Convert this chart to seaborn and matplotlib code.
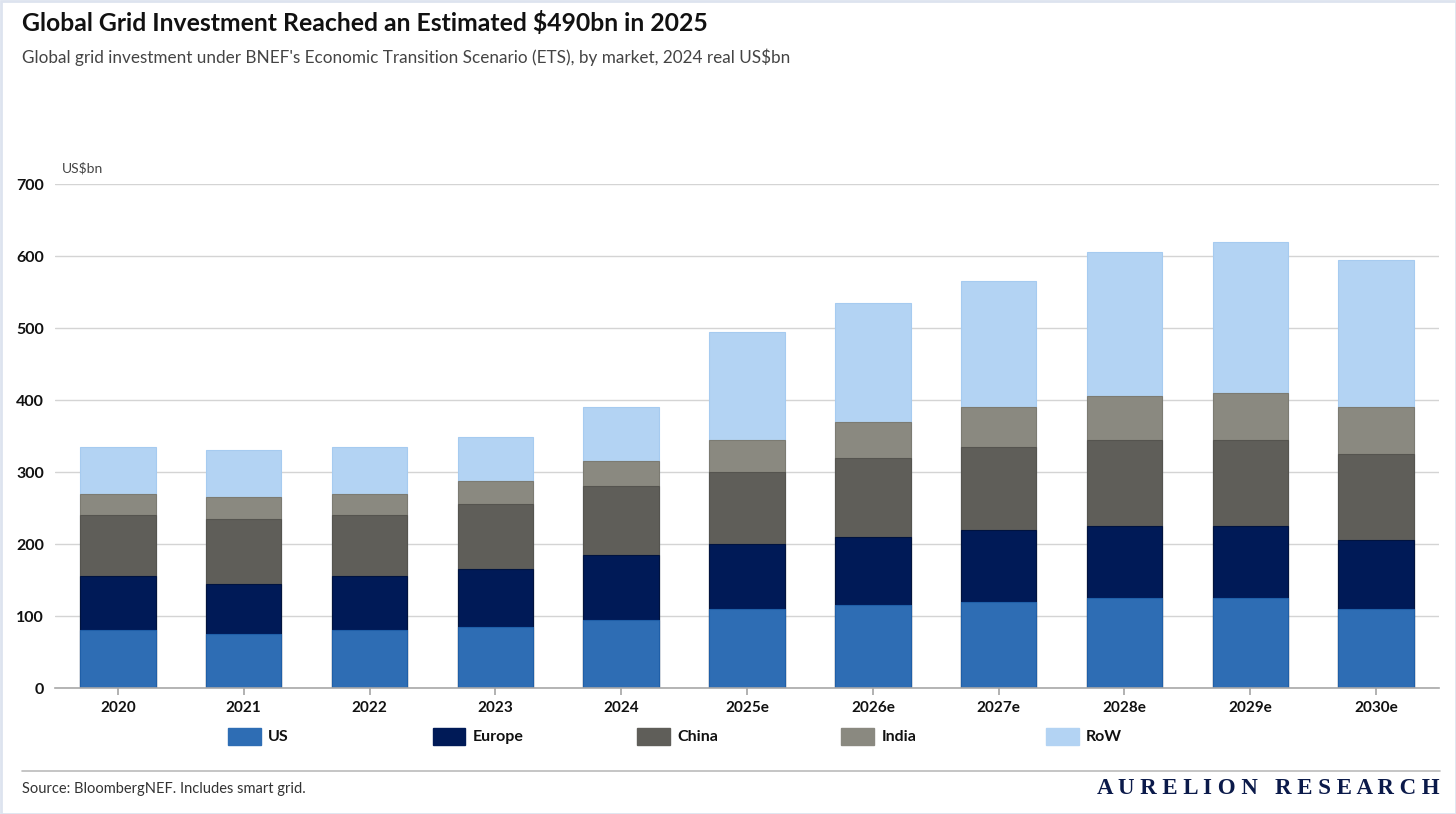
import numpy as np
import pandas as pd
import matplotlib
matplotlib.use("Agg")
import matplotlib.pyplot as plt
from matplotlib.patches import Rectangle
from matplotlib.lines import Line2D
import seaborn as sns

# ── Data (US$bn, 2024 real) ──────────────────────────────────────────────────
years = ["2020", "2021", "2022", "2023", "2024", "2025e", "2026e",
         "2027e", "2028e", "2029e", "2030e"]
us     = [80, 75, 80, 85, 95, 110, 115, 120, 125, 125, 110]
europe = [75, 70, 75, 80, 90, 90, 95, 100, 100, 100, 95]
china  = [85, 90, 85, 90, 95, 100, 110, 115, 120, 120, 120]
india  = [30, 30, 30, 32, 35, 45, 50, 55, 60, 65, 65]
row    = [65, 65, 65, 61, 75, 150, 165, 175, 200, 210, 205]

markets = ["US", "Europe", "China", "India", "RoW"]
colors  = ["#2E6DB4", "#001A57", "#5F5E59", "#8A8980", "#B3D3F3"]
edges   = ["#1F5FA8", "#00133F", "#55544F", "#7C7B72", "#A6CBF0"]

df = pd.DataFrame({"year": years, "US": us, "Europe": europe,
                   "China": china, "India": india, "RoW": row})
cum = df[markets].cumsum(axis=1)

# ── Figure ───────────────────────────────────────────────────────────────────
sns.set_theme(style="white")
plt.rcParams["font.family"] = ["Lato", "DejaVu Sans"]

fig = plt.figure(figsize=(14.56, 8.14), dpi=100)
W, H = 1456, 814
ax = fig.add_axes([55 / W, 1 - 688 / H, (1439 - 55) / W, (688 - 184) / H])

# stack: draw cumulative totals from the top layer down
for m, c, e in reversed(list(zip(markets, colors, edges))):
    sns.barplot(x=df["year"], y=cum[m], color=c, width=0.6, ax=ax,
                edgecolor=e, linewidth=0.8, saturation=1)

ax.set_ylim(0, 700)
ax.set_xlim(-0.5, len(years) - 0.5)
ax.set_yticks(range(0, 701, 100))
ax.yaxis.grid(True, color="#D4D4D4", lw=1)
ax.set_axisbelow(True)
ax.set_xlabel("")
ax.set_ylabel("")
for s in ["top", "right", "left"]:
    ax.spines[s].set_visible(False)
ax.spines["bottom"].set_color("#A8A8A8")
ax.spines["bottom"].set_linewidth(1.2)
ax.tick_params(axis="x", bottom=True, length=5, color="#A8A8A8", pad=4)
ax.tick_params(axis="y", left=False, pad=2)
for lab in ax.get_xticklabels():
    lab.set_fontweight("bold")
    lab.set_fontsize(11)
    lab.set_color("#111111")
for lab in ax.get_yticklabels():
    lab.set_fontweight("bold")
    lab.set_fontsize(11.5)
    lab.set_color("#111111")

# ── Texts ────────────────────────────────────────────────────────────────────
fig.text(22 / W, 1 - 23 / H, "Global Grid Investment Reached an Estimated \\$490bn in 2025",
         fontsize=17.8, fontweight="bold", color="#111111", va="center")
fig.text(22 / W, 1 - 57 / H,
         "Global grid investment under BNEF's Economic Transition Scenario (ETS), by market, 2024 real US\\$bn",
         fontsize=12.3, color="#444444", va="center")
fig.text(62 / W, 1 - 168 / H, "US\\$bn", fontsize=10, color="#444444", va="center")

# ── Legend (manual, fixed spacing) ───────────────────────────────────────────
for i, (m, c) in enumerate(zip(markets, colors)):
    x0 = 228 + i * 204.5
    fig.patches.append(Rectangle((x0 / W, 1 - 745 / H), 33 / W, 17 / H,
                                 transform=fig.transFigure, facecolor=c,
                                 edgecolor=c, figure=fig))
    fig.text((x0 + 40) / W, 1 - 737 / H, m, fontsize=11.5, fontweight="bold",
             color="#111111", va="center")

# ── Footer ───────────────────────────────────────────────────────────────────
fig.lines.append(Line2D([22 / W, 1440 / W], [1 - 771 / H, 1 - 771 / H],
                        transform=fig.transFigure, color="#BBBBBB", lw=1.2))
fig.text(22 / W, 1 - 789 / H, "Source: BloombergNEF. Includes smart grid.",
         fontsize=10.5, color="#333333", va="center")
fig.text(1440 / W, 1 - 788 / H, "A U R E L I O N   R E S E A R C H",
         fontsize=16.5, fontweight="bold", color="#0B1A4A", va="center", ha="right",
         family=["Liberation Serif", "DejaVu Serif"])

# light frame around the card
fig.patches.append(Rectangle((0.5 / W, 0.5 / H), 1 - 1 / W, 1 - 1 / H,
                             transform=fig.transFigure, fill=False,
                             edgecolor="#DDE3EF", lw=2, figure=fig))

fig.savefig("out.png", dpi=100, facecolor="white")
